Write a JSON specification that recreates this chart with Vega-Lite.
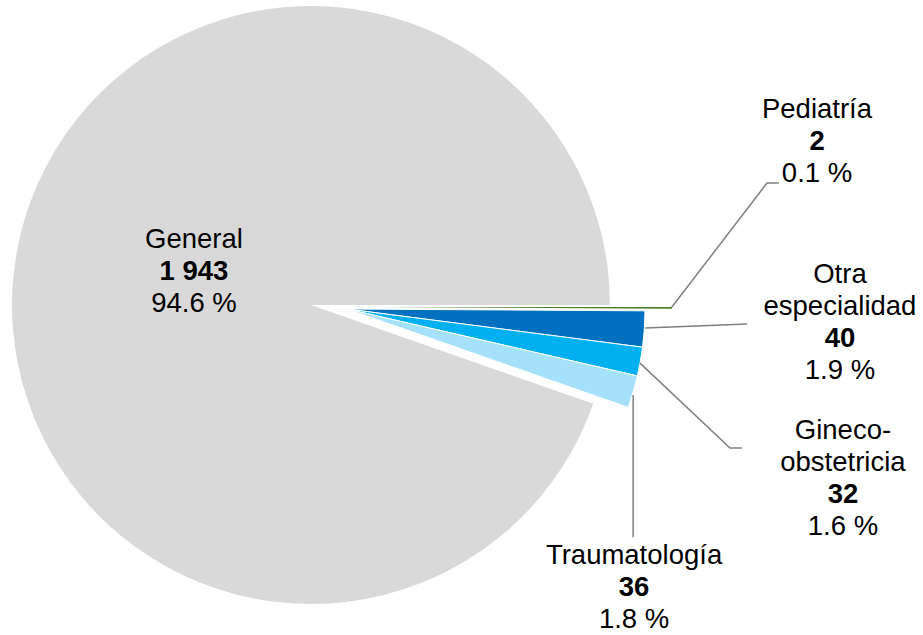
{
  "$schema": "https://vega.github.io/schema/vega-lite/v6.json",
  "width": 622,
  "height": 610,
  "autosize": {"type": "none"},
  "padding": {"left": 0, "top": 0, "right": 301, "bottom": 25},
  "background": "white",
  "config": {"view": {"stroke": null}, "font": "Liberation Sans"},
  "datasets": {
    "slices": [
      {"slice": "Pediatría", "n": 2, "orden": 1},
      {"slice": "Otra especialidad", "n": 40, "orden": 2},
      {"slice": "Gineco-obstetricia", "n": 32, "orden": 3},
      {"slice": "Traumatología", "n": 36, "orden": 4},
      {"slice": "General", "n": 1943, "orden": 5}
    ],
    "labels": [
      {"slice": "General", "x": -39.26, "y": 11.07, "name1": "", "name2": "General", "num": "1 943", "pct": "94.6 %"},
      {"slice": "Pediatría", "x": 169.8, "y": 54.7, "name1": "", "name2": "Pediatría", "num": "2", "pct": "0.1 %"},
      {"slice": "Otra especialidad", "x": 177.5, "y": -11.4, "name1": "Otra", "name2": "especialidad", "num": "40", "pct": "1.9 %"},
      {"slice": "Gineco-obstetricia", "x": 178.5, "y": -63.8, "name1": "Gineco-", "name2": "obstetricia", "num": "32", "pct": "1.6 %"},
      {"slice": "Traumatología", "x": 108.4, "y": -95.0, "name1": "", "name2": "Traumatología", "num": "36", "pct": "1.8 %"}
    ],
    "leaders": [
      {"slice": "Pediatría", "seq": 1, "x": 121.1, "y": -0.67},
      {"slice": "Pediatría", "seq": 2, "x": 153.0, "y": 40.9},
      {"slice": "Pediatría", "seq": 3, "x": 157.0, "y": 40.9},
      {"slice": "Otra especialidad", "seq": 1, "x": 112.1, "y": -7.7},
      {"slice": "Otra especialidad", "seq": 2, "x": 146.3, "y": -6.4},
      {"slice": "Gineco-obstetricia", "seq": 1, "x": 110.4, "y": -19.5},
      {"slice": "Gineco-obstetricia", "seq": 2, "x": 140.6, "y": -48.0},
      {"slice": "Gineco-obstetricia", "seq": 3, "x": 144.6, "y": -48.0},
      {"slice": "Traumatología", "seq": 1, "x": 108.1, "y": -30.2},
      {"slice": "Traumatología", "seq": 2, "x": 108.1, "y": -77.9}
    ]
  },
  "layer": [
    {
      "data": {"name": "slices"},
      "mark": {"type": "arc", "outerRadius": 299},
      "encoding": {
        "theta": {"field": "n", "type": "quantitative", "stack": true, "scale": {"range": [1.5708, 7.854]}},
        "order": {"field": "orden", "type": "quantitative"},
        "color": {"field": "slice", "type": "nominal", "legend": null,
          "scale": {"domain": ["Pediatría", "Otra especialidad", "Gineco-obstetricia", "Traumatología", "General"],
                    "range": ["#4F7A28", "#0070C0", "#00B0F0", "#A6E1FC", "#D9D9D9"]}},
        "opacity": {"condition": {"test": "datum.slice === 'General'", "value": 1}, "value": 0}
      }
    },
    {
      "data": {"name": "slices"},
      "mark": {"type": "arc", "outerRadius": 298, "xOffset": 63, "yOffset": 2},
      "encoding": {
        "theta": {"field": "n", "type": "quantitative", "stack": true},
        "order": {"field": "orden", "type": "quantitative"},
        "color": {"field": "slice", "type": "nominal", "legend": null},
        "opacity": {"condition": {"test": "datum.slice === 'Pediatría'", "value": 1}, "value": 0}
      }
    },
    {
      "data": {"name": "slices"},
      "mark": {"type": "arc", "outerRadius": 298, "xOffset": 36, "yOffset": 4, "stroke": "white", "strokeWidth": 1},
      "encoding": {
        "theta": {"field": "n", "type": "quantitative", "stack": true},
        "order": {"field": "orden", "type": "quantitative"},
        "color": {"field": "slice", "type": "nominal", "legend": null},
        "opacity": {"condition": {"test": "datum.slice !== 'General' && datum.slice !== 'Pediatría'", "value": 1}, "value": 0}
      }
    },
    {
      "data": {"name": "leaders"},
      "mark": {"type": "line", "color": "#808080", "strokeWidth": 1.5},
      "encoding": {
        "x": {"field": "x", "type": "quantitative", "axis": null, "scale": {"domain": [-104.36, 104.36], "nice": false, "zero": false}},
        "y": {"field": "y", "type": "quantitative", "axis": null, "scale": {"domain": [-102.35, 102.35], "nice": false, "zero": false}},
        "detail": {"field": "slice"},
        "order": {"field": "seq", "type": "quantitative"}
      }
    },
    {
      "data": {"name": "labels"},
      "mark": {"type": "text", "fontSize": 27.5, "baseline": "middle", "dy": -64, "color": "#000000", "align": "center"},
      "encoding": {
        "x": {"field": "x", "type": "quantitative"},
        "y": {"field": "y", "type": "quantitative"},
        "text": {"field": "name1"}
      }
    },
    {
      "data": {"name": "labels"},
      "mark": {"type": "text", "fontSize": 27.5, "baseline": "middle", "dy": -32, "color": "#000000", "align": "center"},
      "encoding": {
        "x": {"field": "x", "type": "quantitative"},
        "y": {"field": "y", "type": "quantitative"},
        "text": {"field": "name2"}
      }
    },
    {
      "data": {"name": "labels"},
      "mark": {"type": "text", "fontSize": 27.5, "fontWeight": "bold", "baseline": "middle", "color": "#000000", "align": "center"},
      "encoding": {
        "x": {"field": "x", "type": "quantitative"},
        "y": {"field": "y", "type": "quantitative"},
        "text": {"field": "num"}
      }
    },
    {
      "data": {"name": "labels"},
      "mark": {"type": "text", "fontSize": 27.5, "baseline": "middle", "dy": 32, "color": "#000000", "align": "center"},
      "encoding": {
        "x": {"field": "x", "type": "quantitative"},
        "y": {"field": "y", "type": "quantitative"},
        "text": {"field": "pct"}
      }
    }
  ]
}
